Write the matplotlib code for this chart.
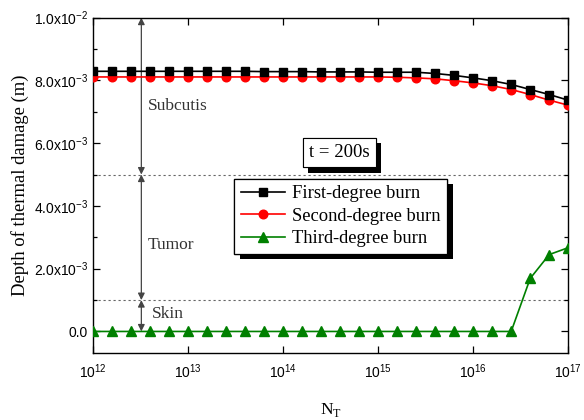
import numpy as np
import matplotlib
matplotlib.use("Agg")
import matplotlib.pyplot as plt
import matplotlib.patheffects as pe
from matplotlib.ticker import FuncFormatter, FixedLocator, LogLocator, NullLocator

plt.rcParams['font.family'] = ['Liberation Sans', 'DejaVu Sans']
serif = ['Liberation Serif', 'DejaVu Serif']

# exponent of N_T (markers every 0.2 decade)
log_nt = [12.0, 12.2, 12.4, 12.6, 12.8, 13.0, 13.2, 13.4, 13.6, 13.8,
          14.0, 14.2, 14.4, 14.6, 14.8, 15.0, 15.2, 15.4, 15.6, 15.8,
          16.0, 16.2, 16.4, 16.6, 16.8, 17.0]
first_deg = [8.29, 8.29, 8.29, 8.29, 8.29, 8.29, 8.29, 8.29, 8.29, 8.28,
             8.28, 8.28, 8.27, 8.27, 8.27, 8.26, 8.26, 8.26, 8.22, 8.16,
             8.08, 7.99, 7.87, 7.71, 7.55, 7.37]
second_deg = [8.11, 8.11, 8.11, 8.11, 8.11, 8.11, 8.11, 8.11, 8.11, 8.11,
              8.11, 8.11, 8.11, 8.11, 8.11, 8.11, 8.10, 8.08, 8.05, 7.99,
              7.92, 7.83, 7.71, 7.55, 7.37, 7.21]
third_deg = [0, 0, 0, 0, 0, 0, 0, 0, 0, 0,
             0, 0, 0, 0, 0, 0, 0, 0, 0, 0,
             0, 0, 0, 1.69, 2.45, 2.67]

nt = 10.0 ** np.array(log_nt)
y1 = np.array(first_deg) * 1e-3
y2 = np.array(second_deg) * 1e-3
y3 = np.array(third_deg) * 1e-3

layer_bounds = [0.010, 0.005, 0.001, 0.0]
layer_names = ['Subcutis', 'Tumor', 'Skin']
layer_text_y = [7.2e-3, 2.75e-3, 0.55e-3]

fig = plt.figure(figsize=(5.84, 4.20), dpi=100)
ax = fig.add_axes([0.159, 0.160, 0.814, 0.798])

ax.plot(nt, y1, color='black', lw=1.2, marker='s', ms=5.5, label='First-degree burn', zorder=5)
ax.plot(nt, y2, color='red', lw=1.2, marker='o', ms=6.2, label='Second-degree burn', zorder=4)
ax.plot(nt, y3, color='green', lw=1.2, marker='^', ms=6.5, label='Third-degree burn', zorder=3)

ax.set_xscale('log')
ax.set_xlim(1e12, 1e17)
ax.set_ylim(-0.00068, 0.010)

# layer boundaries
for b in layer_bounds[1:3]:
    ax.axhline(b, color='#666666', lw=0.8, ls=(0, (2, 2.5)), zorder=1)

# double arrows for the layers
xa = 10 ** 12.51
for top, bot in zip(layer_bounds[:-1], layer_bounds[1:]):
    ax.annotate('', xy=(xa, top), xytext=(xa, bot),
                arrowprops=dict(arrowstyle='<|-|>', color='#444444', lw=0.9,
                                mutation_scale=10, shrinkA=0, shrinkB=0), zorder=2)
for name, ty, lx in zip(layer_names, layer_text_y, [12.58, 12.58, 12.62]):
    ax.text(10 ** lx, ty, name, family=serif, fontsize=12.5, color='#333333', va='center', ha='left')

shadow = [pe.withSimplePatchShadow(offset=(4, -4), shadow_rgbFace='black', alpha=1.0), pe.Normal()]

t = ax.text(0.518, 0.598, 't = 200s', transform=ax.transAxes, family=serif, fontsize=13.5,
            ha='center', va='center',
            bbox=dict(boxstyle='square,pad=0.33', fc='white', ec='black', lw=0.8), zorder=6)
t.get_bbox_patch().set_path_effects(shadow)

leg = ax.legend(loc='upper left', bbox_to_anchor=(0.297, 0.519), borderaxespad=0,
                prop={'family': serif, 'size': 13.3}, frameon=True, fancybox=False,
                edgecolor='black', framealpha=1, handlelength=2.4, labelspacing=0.3,
                borderpad=0.35, handletextpad=0.4)
leg.get_frame().set_linewidth(0.9)
leg.get_frame().set_path_effects(shadow)
leg.set_zorder(6)


def sci_fmt(v, pos):
    if abs(v) < 1e-12:
        return '0.0'
    e = int(np.floor(np.log10(abs(v)) + 1e-9))
    m = v / 10 ** e
    return r'$\mathregular{%.1fx10^{%d}}$' % (m, e)


ax.yaxis.set_major_locator(FixedLocator([0, 0.002, 0.004, 0.006, 0.008, 0.010]))
ax.yaxis.set_minor_locator(FixedLocator([0.001, 0.003, 0.005, 0.007, 0.009]))
ax.yaxis.set_major_formatter(FuncFormatter(sci_fmt))
ax.xaxis.set_major_locator(LogLocator(base=10, numticks=10))
ax.xaxis.set_minor_locator(NullLocator())

ax.tick_params(which='both', direction='in', top=True, right=True, labelsize=10, width=0.9)
ax.tick_params(which='major', length=5)
ax.tick_params(which='minor', length=3)
ax.tick_params(axis='x', pad=7)
for s in ax.spines.values():
    s.set_linewidth(1.0)

ax.set_ylabel('Depth of thermal damage (m)', family=serif, fontsize=13.4, labelpad=3)
ax.set_xlabel(r'N$_\mathregular{T}$', family=serif, fontsize=12.5, labelpad=14)

fig.savefig('out.png', dpi=100)
